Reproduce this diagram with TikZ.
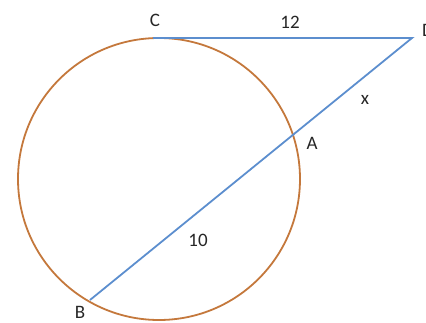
\documentclass[tikz,border=0pt]{standalone}
\usepackage{fontspec}
\setmainfont{Carlito}
\definecolor{circ}{RGB}{196,120,60}
\definecolor{seg}{RGB}{92,142,206}
\begin{document}
\begin{tikzpicture}[x=1pt,y=-1pt,
  lbl/.style={font=\fontsize{19}{19}\selectfont, text=black!85, inner sep=0pt},
  circline/.style={draw=circ, line width=1.8pt},
  segline/.style={draw=seg, line width=1.8pt}]
\useasboundingbox (0,0) rectangle (426,323);
\coordinate (O) at (159,179);
\coordinate (C) at (153,38);
\coordinate (D) at (412,38);
\coordinate (A) at (293.5,135);
\coordinate (B) at (90,300);
\draw[circline] (O) circle (141);
\draw[segline] (C) -- (D) -- (B);
\node[lbl] (lC) at (155,20) {C};
\node[lbl] (l12) at (290,22) {12};
\node[lbl] (lD) at (428,30) {D};
\node[lbl] (lx) at (365,100) {x};
\node[lbl] (lA) at (312,143) {A};
\node[lbl] (l10) at (198,240) {10};
\node[lbl] (lB) at (80,312) {B};
\end{tikzpicture}
\end{document}
